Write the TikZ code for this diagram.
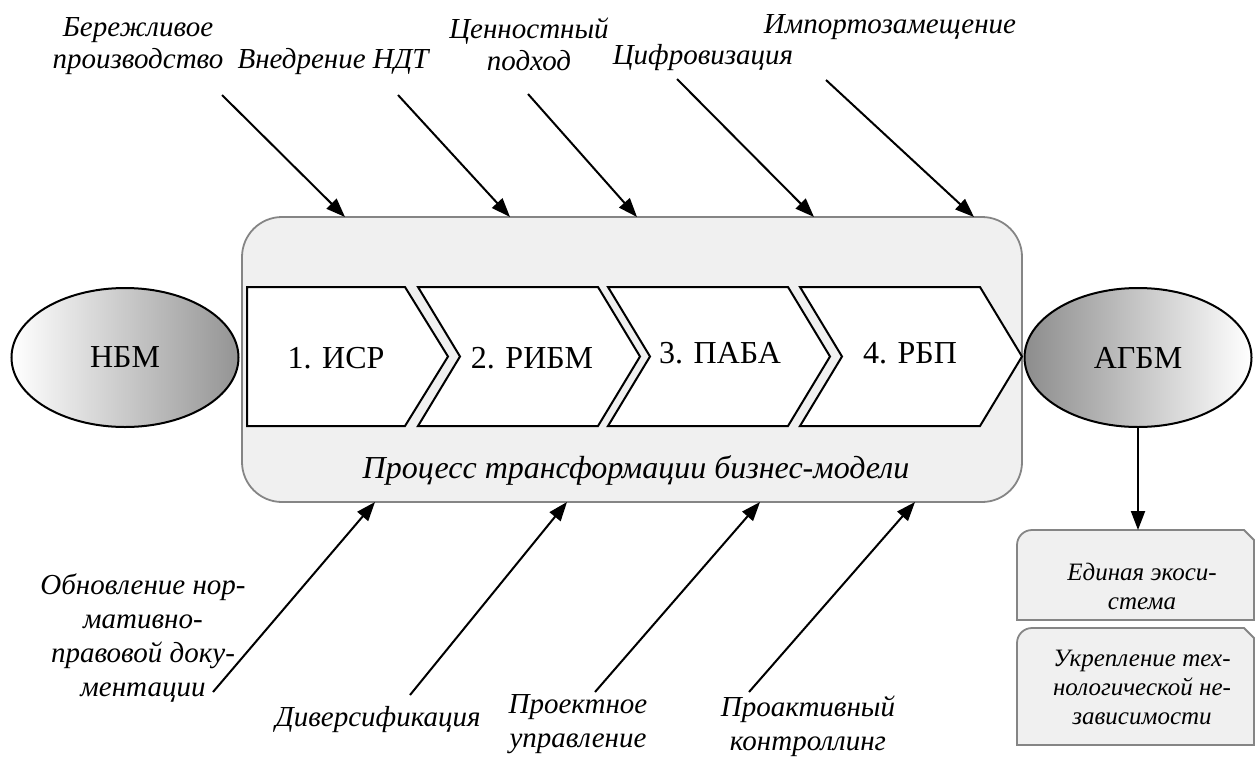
\documentclass[tikz,border=0pt]{standalone}
\usepackage{fontspec}
\setmainfont{Liberation Serif}
\usetikzlibrary{arrows.meta,shapes.geometric}

\tikzset{
  lbl/.style={font=\fontsize{29}{32}\selectfont\itshape, align=center, inner sep=0pt},
  lbldown/.style={lbl, font=\fontsize{29}{34}\selectfont\itshape},
  res/.style={lbl, font=\fontsize{25}{29}\selectfont\itshape},
  stage/.style={font=\fontsize{32}{38}\selectfont, inner sep=0pt},
  arr/.style={-{Triangle[length=19pt,width=14pt]}, line width=2pt},
  chev/.style={draw, fill=white, line width=2pt, line join=miter},
  frame/.style={draw=black!48, fill=black!6, line width=1.8pt},
  bm/.style={ellipse, draw, line width=2pt, font=\fontsize{32}{38}\selectfont,
    minimum width=227pt, minimum height=139pt, inner sep=0pt}
}

\begin{document}
\begin{tikzpicture}[x=1pt,y=-1pt]
  \useasboundingbox (0,0) rectangle (1255,758);
  % Process frame
  \node[frame, rounded corners=40pt, minimum width=780pt, minimum height=285pt, inner sep=0pt] (proc) at (632,359.5) {};
  \node[font=\fontsize{32}{38}\selectfont\itshape, inner sep=0pt] (ptitle) at (636,470) {Процесс трансформации бизнес-модели};
  % Stages
  \draw[chev] (247,287) -- (405,287) -- (448,356.5) -- (405,426) -- (247,426) -- cycle;
  \foreach \l in {418,608,800}
    \draw[chev] (\l,287) -- ++(180,0) -- ++(42,69.5) -- ++(-42,69.5) -- ++(-180,0) -- ++(42,-69.5) -- cycle;
  \node[stage] (st1) at (336,358) {1. ИСР};
  \node[stage] (st2) at (532,358) {2. РИБМ};
  \node[stage] (st3) at (720,353) {3. ПАБА};
  \node[stage] (st4) at (910,353) {4. РБП};
  % Old and new business model
  \node[bm, left color=white, right color=black!42] (nbm) at (125,357.5) {НБМ};
  \node[bm, left color=black!45, right color=white] (agbm) at (1138,357.5) {АГБМ};
  % Factors above
  \node[lbl] (lean) at (138,46) {Бережливое\\производство};
  \node[lbl] (bat) at (333,62) {Внедрение НДТ};
  \node[lbl] (value) at (529,44) {Ценностный\\подход};
  \node[lbl] (digit) at (703,58) {Цифровизация};
  \node[lbl] (imp) at (890,27) {Импортозамещение};
  \coordinate (t1) at (222,95);  \coordinate (e1) at (345,217);
  \coordinate (t2) at (398,95);  \coordinate (e2) at (510,217);
  \coordinate (t3) at (528,94);  \coordinate (e3) at (637,217);
  \coordinate (t4) at (677,79);  \coordinate (e4) at (814,217);
  \coordinate (t5) at (826,80);  \coordinate (e5) at (974,217);
  \foreach \n in {1,...,5} \draw[arr] (t\n) -- (e\n);
  % Factors below
  \node[lbldown] (norm) at (143,638) {Обновление нор-\\мативно-\\правовой доку-\\ментации};
  \node[lbl] (div) at (378,720) {Диверсификация};
  \node[lbldown] (proj) at (578,724) {Проектное\\управление};
  \node[lbldown] (proact) at (808,726) {Проактивный\\контроллинг};
  \coordinate (b1) at (213,692); \coordinate (f1) at (375,502);
  \coordinate (b2) at (410,695); \coordinate (f2) at (567,502);
  \coordinate (b3) at (595,692); \coordinate (f3) at (760,502);
  \coordinate (b4) at (749,692); \coordinate (f4) at (915,502);
  \foreach \n in {1,...,4} \draw[arr] (b\n) -- (f\n);
  % Results
  \draw[frame] (1017,620) [rounded corners=15pt] -- (1017,530) [sharp corners] -- (1244,530) -- (1254,540) -- (1254,620) -- cycle;
  \draw[frame] (1017,745) [rounded corners=15pt] -- (1017,628) [sharp corners] -- (1244,628) -- (1254,638) -- (1254,745) -- cycle;
  \node[res] (eco) at (1142,586) {Единая экоси-\\стема};
  \node[res] (indep) at (1142,687) {Укрепление тех-\\нологической не-\\зависимости};
  \coordinate (ecotop) at (1138,530);
  \draw[arr] (agbm) -- (ecotop);
\end{tikzpicture}
\end{document}
